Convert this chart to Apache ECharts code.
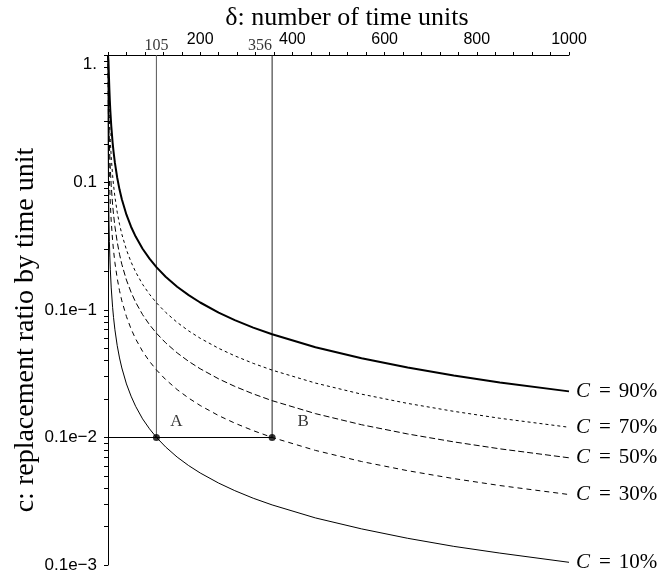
<!DOCTYPE html>
<html>
<head>
<meta charset="utf-8">
<script src="https://cdn.jsdelivr.net/npm/echarts@6/dist/echarts.min.js"></script>
<style>html,body{margin:0;padding:0;background:#fff}#c{width:659px;height:576px}</style>
</head>
<body>
<div id="c"></div>
<script>
// δ: number of time units
const deltas = [0, 0.02, 0.05, 0.1, 0.2, 0.5, 1, 2, 3, 4, 5, 7, 10, 12, 15, 20, 25, 30, 40, 50, 60, 75, 90, 105, 125, 150, 175, 200, 240, 275, 315, 356, 450, 550, 650, 750, 850, 1000];
// c: replacement ratio by time unit
const c90 = [1, 1, 1, 1, 1, 0.990, 0.9, 0.684, 0.5358, 0.438, 0.3690, 0.280, 0.2057, 0.175, 0.1423, 0.109, 0.0880, 0.0739, 0.0559, 0.0450, 0.03765, 0.0302, 0.02526, 0.02169, 0.01825, 0.01523, 0.01307, 0.01145, 0.00955, 0.00834, 0.00728, 0.00645, 0.005104, 0.004178, 0.003536, 0.003065, 0.002705, 0.00230];
const c70 = [1, 1, 1, 1, 0.998, 0.910, 0.7, 0.452, 0.3306, 0.260, 0.2140, 0.158, 0.1134, 0.0955, 0.0771, 0.0584, 0.0470, 0.0393, 0.02965, 0.0238, 0.01987, 0.0159, 0.01329, 0.01140, 0.009586, 0.007994, 0.006856, 0.006002, 0.005004, 0.004369, 0.003815, 0.003376, 0.002672, 0.002187, 0.001851, 0.001604, 0.001415, 0.001203];
const c50 = [1, 1, 1, 0.999, 0.969, 0.750, 0.5, 0.293, 0.2063, 0.159, 0.1294, 0.0943, 0.0670, 0.0561, 0.0452, 0.0341, 0.02735, 0.0228, 0.01718, 0.0138, 0.01149, 0.00920, 0.00767, 0.00658, 0.00553, 0.00461, 0.003953, 0.00346, 0.002884, 0.002517, 0.002198, 0.001945, 0.001539, 0.001259, 0.001066, 0.000924, 0.000815, 0.000693];
const c30 = [1, 1, 0.999, 0.972, 0.832, 0.510, 0.3, 0.163, 0.1121, 0.0853, 0.0689, 0.0497, 0.0350, 0.0293, 0.0235, 0.0177, 0.01417, 0.0118, 0.00888, 0.00711, 0.005927, 0.00474, 0.003955, 0.003391, 0.00285, 0.002375, 0.002036, 0.001782, 0.001485, 0.001296, 0.001132, 0.001001, 0.000792, 0.000648, 0.000549, 0.000476, 0.000420, 0.000357];
const c10 = [1, 0.995, 0.878, 0.651, 0.410, 0.190, 0.1, 0.0513, 0.0345, 0.0260, 0.0209, 0.0149, 0.01048, 0.00874, 0.00700, 0.00525, 0.004206, 0.00351, 0.002631, 0.00211, 0.001754, 0.00140, 0.00117, 0.001003, 0.000843, 0.000702, 0.000602, 0.000527, 0.000439, 0.000383, 0.000334, 0.000296, 0.000234, 0.000192, 0.000162, 0.000140, 0.000124, 0.000105];
const curveLabels = ['90%', '70%', '50%', '30%', '10%'];

// highlighted points A and B
const pointNames = ['A', 'B'];
const pointDelta = [105, 356];
const pointC = [0.001, 0.001];

// tick labels
const xTickLabels = [200, 400, 600, 800, 1000];
const xMinorTicks = [0, 40, 80, 120, 160, 200, 240, 280, 320, 360, 400, 440, 480, 520, 560, 600, 640, 680, 720, 760, 800, 840, 880, 920, 960, 1000];
const yTickValues = [0.0001, 0.001, 0.01, 0.1, 1];
const yTickLabels = ['0.1e\u22123', '0.1e\u22122', '0.1e\u22121', '0.1', '1.'];
const yMinorMult = [1, 2, 3, 4, 5, 6, 7, 8, 9];

const yMinorTicks = [];
yTickValues.forEach(d => yMinorMult.forEach(m => { const v = d * m; if (v <= 1.0000001) yMinorTicks.push(v); }));

const serif = 'Liberation Serif';
const sans = 'Liberation Sans';

function pairs(ys) { return deltas.map((d, i) => [d, ys[i]]); }

const styles = [
  { width: 2, type: 'solid' },
  { width: 1, type: [3, 3] },
  { width: 1, type: [6, 3] },
  { width: 1, type: [5, 4] },
  { width: 1, type: 'solid' }
];
const curves = [c90, c70, c50, c30, c10];

const series = curves.map((ys, k) => ({
  type: 'line',
  data: pairs(ys),
  showSymbol: false,
  symbol: 'none',
  silent: true,
  lineStyle: { color: '#000', width: styles[k].width, type: styles[k].type },
  endLabel: {
    show: true,
    distance: 7,
    formatter: () => '{i|C}{e|=}{t|' + curveLabels[k] + '}',
    rich: {
      i: { fontFamily: serif, fontStyle: 'italic', fontSize: 21, color: '#000' },
      e: { fontFamily: serif, fontSize: 21, color: '#000', padding: [0, 8, 0, 9] },
      t: { fontFamily: serif, fontSize: 21, color: '#000' }
    }
  },
  z: 3
}));

// guide lines
series.push({
  type: 'line', data: [[pointDelta[0], 1], [pointDelta[0], pointC[0]]],
  symbol: 'none', silent: true, lineStyle: { color: '#555', width: 1 }, z: 2
});
series.push({
  type: 'line', data: [[pointDelta[1], 1], [pointDelta[1], pointC[1]]],
  symbol: 'none', silent: true, lineStyle: { color: '#222', width: 1 }, z: 2
});
series.push({
  type: 'line', data: [[0, pointC[0]], [pointDelta[1], pointC[1]]],
  symbol: 'none', silent: true, lineStyle: { color: '#000', width: 1 }, z: 2
});
// points A, B
series.push({
  type: 'scatter',
  data: pointDelta.map((d, i) => ({
    value: [d, pointC[i]],
    label: { offset: [i === 0 ? 20 : 31, 0] }
  })),
  symbolSize: 7,
  itemStyle: { color: '#000' },
  label: {
    show: true, position: 'top', distance: 4,
    formatter: p => pointNames[p.dataIndex],
    fontFamily: serif, fontSize: 17, color: '#000'
  },
  z: 5
});
// top labels for 105 and 356
series.push({
  type: 'scatter',
  data: pointDelta.map((d, i) => ({
    value: [d, 1],
    label: { offset: [i === 0 ? 0 : -12, 0] }
  })),
  symbolSize: 0,
  label: {
    show: true, position: 'top', distance: 1,
    formatter: p => String(pointDelta[p.dataIndex]),
    fontFamily: serif, fontSize: 16, color: '#000'
  },
  z: 5
});

const chart = echarts.init(document.getElementById('c'), null, { renderer: 'canvas' });
chart.setOption({
  animation: false,
  backgroundColor: '#fff',
  grid: { left: 108, right: 90, top: 55, bottom: 11, containLabel: false },
  xAxis: {
    type: 'value', position: 'top', min: 0, max: 1000,
    axisLine: { show: true, onZero: false, lineStyle: { color: '#000', width: 1 } },
    axisTick: { show: true, inside: false, length: 3, customValues: xMinorTicks, lineStyle: { color: '#000' } },
    axisLabel: { show: true, customValues: xTickLabels, margin: 7, fontFamily: sans, fontSize: 16, color: '#000', formatter: v => String(v) },
    splitLine: { show: false }
  },
  yAxis: {
    type: 'log', logBase: 10, min: 0.0001, max: 1,
    axisLine: { show: true, onZero: false, lineStyle: { color: '#000', width: 1 } },
    axisTick: { show: true, inside: false, length: 4, customValues: yMinorTicks, lineStyle: { color: '#000' } },
    axisLabel: {
      show: true, customValues: yTickValues, margin: 11, fontFamily: sans, fontSize: 17, color: '#000',
      formatter: v => {
        const idx = Math.round(Math.log10(v)) + 4;
        const s = yTickLabels[idx];
        return idx === 4 ? '{a|' + s + '}' : s;
      },
      rich: { a: { fontFamily: sans, fontSize: 17, color: '#000', padding: [18, 0, 0, 0] } }
    },
    splitLine: { show: false },
    minorTick: { show: false }
  },
  graphic: [
    { type: 'text', x: 347, y: 18, style: { text: 'δ: number of time units', font: '26px "Liberation Serif"', fill: '#000', align: 'center', verticalAlign: 'middle' } },
    { type: 'text', x: 26, y: 330, rotation: Math.PI / 2, style: { text: 'c: replacement ratio by time unit', font: '28px "Liberation Serif"', fill: '#000', align: 'center', verticalAlign: 'middle' } }
  ],
  series: series
});
</script>
</body>
</html>
